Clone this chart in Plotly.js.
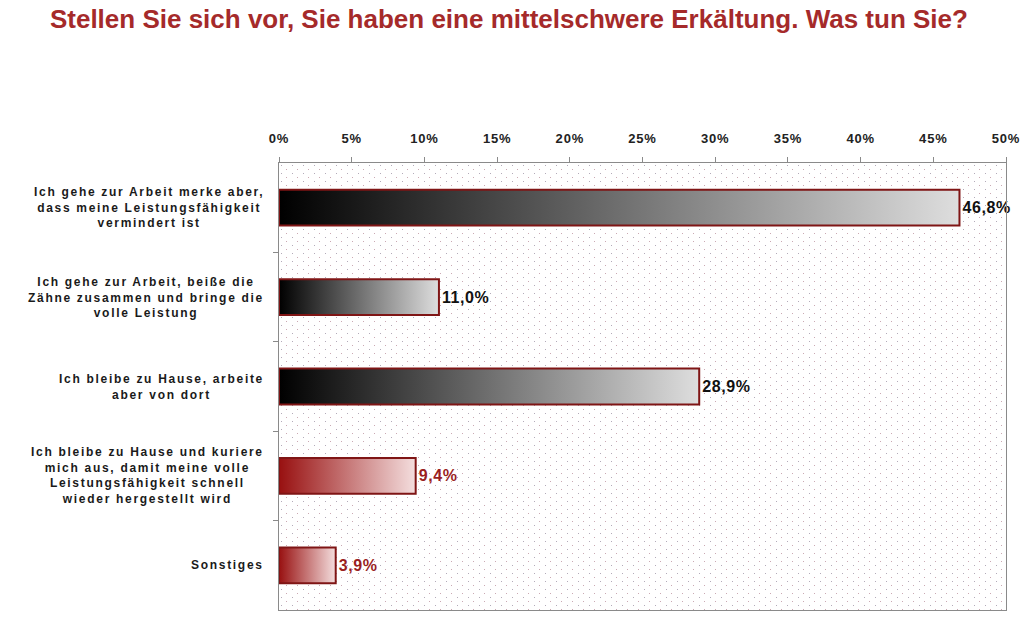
<!DOCTYPE html>
<html>
<head>
<meta charset="utf-8">
<script src="https://cdn.plot.ly/plotly-3.0.1.min.js"></script>
<style>
html,body{margin:0;padding:0;background:#fff;}
#chart{width:1024px;height:622px;}
.annotation-text{letter-spacing:1.7px;}
.xtick text{letter-spacing:0.8px;}
.bartext{letter-spacing:0.6px;}
</style>
</head>
<body>
<div id="chart"></div>
<script>
// ---- data ----
const categories = [
  "Ich gehe zur Arbeit merke aber,<br>dass meine Leistungsfähigkeit<br>vermindert ist",
  "Ich gehe zur Arbeit, beiße die<br>Zähne zusammen und bringe die<br>volle Leistung",
  "Ich bleibe zu Hause, arbeite<br>aber von dort",
  "Ich bleibe zu Hause und kuriere<br>mich aus, damit meine volle<br>Leistungsfähigkeit schnell<br>wieder hergestellt wird",
  "Sonstiges"
];
const values = [46.8, 11.0, 28.9, 9.4, 3.9];
const colorGroup = ["gray", "gray", "gray", "red", "red"];
const xTicks = [0, 5, 10, 15, 20, 25, 30, 35, 40, 45, 50];

// ---- styles ----
const FONT = "Liberation Sans, Arial, sans-serif";
const DARKRED = "#7f1515";
const scales = {
  gray: [[0, "#000000"], [1, "#dedede"]],
  red:  [[0, "#981010"], [1, "#f4dede"]]
};
const labelColors = {gray: "#111111", red: "#9a1f1f"};
const HALF = 0.2;
const pos = categories.map((c, i) => i);

const traces = [];
values.forEach((v, i) => {
  const y0 = pos[i] - HALF, y1 = pos[i] + HALF;
  traces.push({
    type: "scatter", mode: "lines",
    x: [0, v, v, 0, 0], y: [y0, y0, y1, y1, y0],
    fill: "toself",
    fillgradient: {type: "horizontal", colorscale: scales[colorGroup[i]]},
    line: {width: 2, color: DARKRED},
    hoverinfo: "skip", showlegend: false
  });
});
traces.push({
  type: "bar", orientation: "h",
  x: values, y: pos, width: 2 * HALF,
  marker: {color: "rgba(0,0,0,0)", line: {width: 0}},
  text: values.map(v => v.toFixed(1).replace(".", ",") + "%"),
  textposition: "outside",
  textfont: {family: FONT, size: 16, weight: "bold", color: colorGroup.map(g => labelColors[g])},
  cliponaxis: false, showlegend: false, hoverinfo: "skip"
});

// dotted background
const svg = '<svg xmlns="http://www.w3.org/2000/svg" width="727" height="447" preserveAspectRatio="none">' +
  '<defs><pattern id="p" width="11" height="8" patternUnits="userSpaceOnUse">' +
  '<rect x="2" y="2" width="1" height="1" fill="#b3abb9"/><rect x="7" y="6" width="1" height="1" fill="#caa9b3"/>' +
  '</pattern></defs><rect width="727" height="447" fill="url(#p)"/></svg>';

const annotations = categories.map((c, i) => ({
  xref: "paper", yref: "y", x: 0, y: pos[i], xshift: -13,
  xanchor: "right", yanchor: "middle", align: "center",
  text: c, showarrow: false,
  font: {family: FONT, size: 12, weight: "bold", color: "#1a1a1a"}
}));

const layout = {
  width: 1024, height: 622,
  margin: {l: 279, r: 18, t: 163, b: 12},
  paper_bgcolor: "#ffffff", plot_bgcolor: "#ffffff",
  separators: ",.",
  title: {
    text: "Stellen Sie sich vor, Sie haben eine mittelschwere Erkältung. Was tun Sie?",
    x: 0.497, xanchor: "center", xref: "container", y: 0.985, yanchor: "top", yref: "container",
    font: {family: FONT, size: 26, weight: "bold", color: "#a52a2a"}
  },
  xaxis: {
    side: "top", range: [0, 50], tickvals: xTicks, ticktext: xTicks.map(t => t + "%"),
    showgrid: false, zeroline: false,
    showline: true, linecolor: "#8a8a8a", linewidth: 1, mirror: true,
    ticks: "outside", ticklen: 5, tickcolor: "#8a8a8a",
    ticklabelstandoff: 9,
    tickfont: {family: FONT, size: 13, weight: "bold", color: "#222"}
  },
  yaxis: {
    range: [4.5, -0.5], showgrid: false, zeroline: false,
    tickvals: [0.5, 1.5, 2.5, 3.5], showticklabels: false,
    ticks: "outside", ticklen: 5, tickcolor: "#8a8a8a",
    showline: true, linecolor: "#8a8a8a", linewidth: 1, mirror: true
  },
  images: [{
    source: "data:image/svg+xml;charset=utf-8," + encodeURIComponent(svg),
    xref: "paper", yref: "paper", x: 0, y: 1, sizex: 1, sizey: 1,
    xanchor: "left", yanchor: "top", sizing: "stretch", layer: "below"
  }],
  annotations: annotations
};

Plotly.newPlot("chart", traces, layout, {displayModeBar: false, staticPlot: true});
</script>
</body>
</html>
